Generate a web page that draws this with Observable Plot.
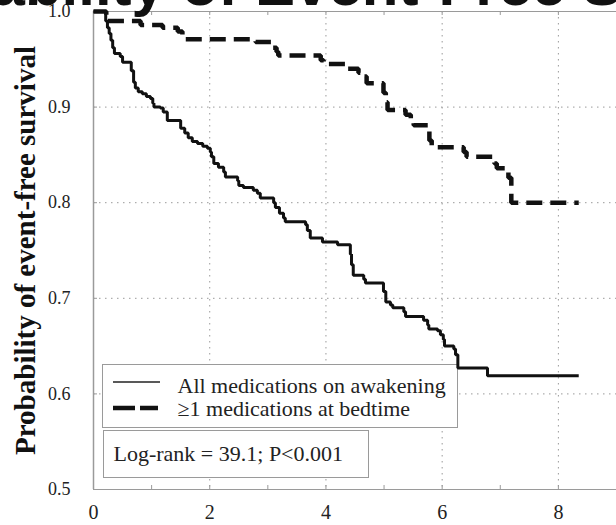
<!DOCTYPE html>
<html>
<head>
<meta charset="utf-8">
<script src="https://cdn.jsdelivr.net/npm/d3@7"></script>
<script src="https://cdn.jsdelivr.net/npm/@observablehq/plot@0.6"></script>
<style>
  html, body { margin: 0; padding: 0; background: white; }
  #chart { width: 616px; height: 525px; overflow: hidden; }
</style>
</head>
<body>
<div id="chart"></div>
<script>
// Kaplan–Meier event-free survival by time of medication intake (years)
const title = "Probability of Event-Free Survival";
const yTitle = "Probability of event-free survival";
const seriesNames = ["All medications on awakening", "\u22651 medications at bedtime"];
const statText = "Log-rank = 39.1; P<0.001";
const xTicks = [0, 2, 4, 6, 8];
const yTicks = [0.5, 0.6, 0.7, 0.8, 0.9, 1.0];

// All medications on awakening: step times and survival after each step
const awakeningTimes = [
  0, 0.21, 0.24, 0.27, 0.30, 0.33, 0.36, 0.46, 0.50, 0.65,
  0.69, 0.72, 0.77, 0.84, 0.91, 0.98, 1.02, 1.04, 1.15, 1.20,
  1.27, 1.50, 1.57, 1.63, 1.70, 1.79, 1.88, 1.96, 2.01, 2.03,
  2.07, 2.15, 2.24, 2.27, 2.48, 2.50, 2.58, 2.75, 2.82, 2.87,
  3.10, 3.13, 3.20, 3.27, 3.30, 3.65, 3.68, 3.73, 3.94, 4.20,
  4.42, 4.44, 4.47, 4.65, 4.68, 4.99, 5.03, 5.11, 5.15, 5.34,
  5.37, 5.68, 5.75, 5.77, 5.92, 5.97, 6.02, 6.04, 6.20, 6.23,
  6.27, 6.78, 8.35
];
const awakeningSurvival = [
  1.000, 0.990, 0.983, 0.977, 0.970, 0.962, 0.956, 0.953, 0.947, 0.938,
  0.926, 0.920, 0.916, 0.914, 0.911, 0.909, 0.904, 0.900, 0.899, 0.895,
  0.886, 0.878, 0.873, 0.868, 0.864, 0.862, 0.859, 0.857, 0.853, 0.848,
  0.841, 0.837, 0.832, 0.827, 0.823, 0.818, 0.816, 0.813, 0.810, 0.805,
  0.800, 0.795, 0.789, 0.784, 0.780, 0.777, 0.771, 0.763, 0.759, 0.756,
  0.746, 0.735, 0.724, 0.720, 0.716, 0.707, 0.696, 0.693, 0.690, 0.686,
  0.681, 0.677, 0.672, 0.668, 0.666, 0.662, 0.657, 0.650, 0.647, 0.641,
  0.627, 0.619, 0.619
];

// ≥1 medications at bedtime
const bedtimeTimes = [
  0, 0.22, 0.81, 1.19, 1.45, 1.53, 1.58, 2.79, 3.08, 3.15,
  3.18, 3.91, 3.96, 4.34, 4.56, 4.63, 4.70, 4.99, 5.03, 5.06,
  5.37, 5.46, 5.51, 5.77, 5.78, 5.82, 6.37, 6.42, 6.90, 6.94,
  7.09, 7.14, 7.19, 8.35
];
const bedtimeSurvival = [
  1.000, 0.990, 0.986, 0.983, 0.979, 0.975, 0.971, 0.968, 0.962, 0.958,
  0.954, 0.949, 0.945, 0.940, 0.936, 0.932, 0.925, 0.915, 0.905, 0.897,
  0.892, 0.887, 0.881, 0.875, 0.865, 0.858, 0.853, 0.848, 0.841, 0.836,
  0.832, 0.826, 0.800, 0.800
];

const awakening = awakeningTimes.map((t, i) => ({t, s: awakeningSurvival[i]}));
const bedtime = bedtimeTimes.map((t, i) => ({t, s: bedtimeSurvival[i]}));

const W = 616, H = 525;
const mL = 93, mT = 11, mB = 36, mR = 0;
const frameW = W - mL - mR, frameH = H - mT - mB;
const serif = "'Liberation Serif', 'Times New Roman', serif";
const frameGray = "#9a9a9a";
const gridStyle = {stroke: "#9a9a9a", strokeOpacity: 1, strokeWidth: 1, strokeDasharray: "1.5,4.5"};

const chart = Plot.plot({
  width: W, height: H,
  marginLeft: mL, marginRight: mR, marginTop: mT, marginBottom: mB,
  x: {domain: [0, 9], label: null},
  y: {domain: [0.5, 1.0], label: null},
  style: {fontFamily: serif, background: "white", color: "#222", overflow: "visible"},
  marks: [
    Plot.gridX(xTicks.slice(1), gridStyle),
    Plot.gridY(yTicks.slice(1, -1), gridStyle),
    // short inward ticks on the frame
    Plot.ruleX(d3.range(1, 9), {insetTop: frameH - 4, stroke: frameGray}),
    Plot.ruleX(d3.range(1, 9), {insetBottom: frameH - 4, stroke: frameGray}),
    Plot.ruleY(yTicks, {insetRight: frameW - 4, stroke: frameGray}),
    Plot.ruleX([0], {stroke: frameGray, strokeWidth: 1.5}),
    Plot.ruleY([0.5, 1.0], {stroke: frameGray, strokeWidth: 1.2}),
    Plot.axisX(xTicks, {tickSize: 0, tickPadding: 15, fontSize: 20, fill: "#222"}),
    Plot.axisY(yTicks, {tickSize: 0, tickPadding: 23, fontSize: 18, fill: "#222", tickFormat: d3.format(".1f")}),
    // legend and statistic boxes
    Plot.frame({insetLeft: 9, insetRight: 159, insetTop: 353, insetBottom: 62, fill: "white", stroke: frameGray}),
    Plot.frame({insetLeft: 10, insetRight: 248, insetTop: 419, insetBottom: 12, fill: "white", stroke: frameGray}),
    Plot.text([seriesNames[0]], {text: d => d, frameAnchor: "top-left", dx: 84, dy: 381, textAnchor: "start", lineAnchor: "bottom", fontSize: 22, fill: "#222"}),
    Plot.text([seriesNames[1]], {text: d => d, frameAnchor: "top-left", dx: 84, dy: 404, textAnchor: "start", lineAnchor: "bottom", fontSize: 22, fill: "#222"}),
    Plot.text([statText], {text: d => d, frameAnchor: "top-left", dx: 20, dy: 449, textAnchor: "start", lineAnchor: "bottom", fontSize: 22, fill: "#222"}),
    // survival curves
    Plot.line(awakening, {x: "t", y: "s", curve: "step-after", stroke: "#111", strokeWidth: 3, strokeLinecap: "butt", strokeLinejoin: "miter"}),
    Plot.line(bedtime, {x: "t", y: "s", curve: "step-after", stroke: "#111", strokeWidth: 4.5, strokeDasharray: "16,8", strokeLinecap: "butt", strokeLinejoin: "miter"}),
    // titles
    Plot.text([title], {text: d => d, frameAnchor: "top-left", dx: -170, dy: -7, textAnchor: "start", lineAnchor: "bottom", fontSize: 50, fontWeight: "bold", fontFamily: "'Liberation Sans', Arial, sans-serif", fill: "#111"}),
    Plot.text([yTitle], {text: d => d, frameAnchor: "left", dx: -68, rotate: -90, textAnchor: "middle", lineAnchor: "middle", fontSize: 29, fontWeight: "bold", fill: "#111"})
  ]
});

// legend line samples
const svg = d3.select(chart);
const lg = svg.append("g");
lg.append("line").attr("x1", 113).attr("x2", 160).attr("y1", 382).attr("y2", 382)
  .attr("stroke", "#222").attr("stroke-width", 1.5);
lg.append("line").attr("x1", 113).attr("x2", 158).attr("y1", 408).attr("y2", 408)
  .attr("stroke", "#111").attr("stroke-width", 4.5).attr("stroke-dasharray", "22,5");

document.getElementById("chart").append(chart);

// fit the large title so that "Event" and "Survival" start where intended
const titleEl = Array.from(chart.querySelectorAll("text")).find(t => t.textContent === title);
if (titleEl) {
  const eventX = 255, survivalX = 582;
  const iE = title.indexOf("Event"), iS = title.indexOf("Survival");
  const span = titleEl.getStartPositionOfChar(iS).x - titleEl.getStartPositionOfChar(iE).x;
  titleEl.style.fontSize = (50 * (survivalX - eventX) / span) + "px";
  const ctm = titleEl.getCTM();
  const absE = ctm.a * titleEl.getStartPositionOfChar(iE).x + ctm.e;
  titleEl.setAttribute("dx", eventX - absE);
}
</script>
</body>
</html>
